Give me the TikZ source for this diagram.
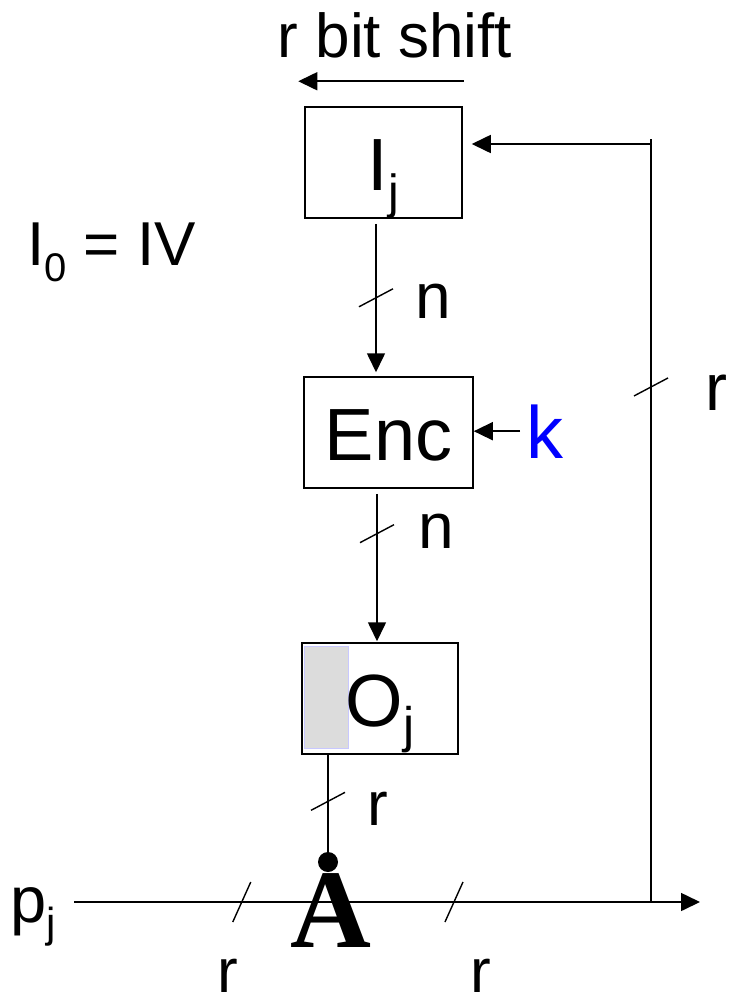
\documentclass[tikz,border=0pt]{standalone}
\usepackage{fontspec}
\setmainfont{Liberation Sans}
\newfontfamily\serfont{Liberation Serif}
\usepackage{xcolor}
\usetikzlibrary{arrows.meta,positioning}
\definecolor{slotgray}{HTML}{DCDCDC}
\definecolor{slotedge}{HTML}{C8C8FF}
\newcommand{\lsub}[3]{\raisebox{-#1pt}{\fontsize{#2}{#2}\selectfont #3}}

\begin{document}
\begin{tikzpicture}[
  x=1pt, y=-1pt,
  blk/.style={draw, line width=1.5pt, inner sep=0pt, minimum height=111pt,
              text height=56pt, text depth=0pt, font=\fontsize{74}{80}\selectfont},
  lbl/.style={inner sep=0pt, font=\fontsize{62}{66}\selectfont},
  arr/.style={-{Triangle[length=19pt, width=18pt]}, line width=1.6pt},
  wire/.style={line width=1.6pt},
  tick/.style={line width=1.4pt}
]
  \useasboundingbox (0,0) rectangle (728,1001);

  % boxes
  \node[blk, minimum width=157pt] (ij)  at (383.5,162.5) {I\lsub{18}{48}{j}};
  \node[blk, minimum width=169pt] (enc) at (388.5,432.5) {Enc};
  \node[blk, minimum width=156pt] (oj)  at (380,698.5)   {\phantom{O}};
  \fill[slotgray, draw=slotedge, line width=1pt]
    ([shift={(3,4)}]oj.north west) rectangle ([shift={(47,106)}]oj.north west);
  \node[inner sep=0pt, text height=56pt, text depth=0pt, font=\fontsize{74}{80}\selectfont]
    (ojtxt) at (oj.center) {O\lsub{16}{50}{j}};

  % labels
  \node[lbl, anchor=base] (shift) at (395,57) {r bit shift};
  \node[lbl, anchor=base west] (iv) at (27,265) {I\lsub{16}{40}{0} = IV};
  \node[lbl, anchor=base, font=\fontsize{64}{66}\selectfont] (n1) at (433,318) {n};
  \node[lbl, anchor=base, font=\fontsize{64}{66}\selectfont] (n2) at (436,548) {n};
  \node[lbl, anchor=base west, text=blue, font=\fontsize{74}{80}\selectfont] (k) at (526,458) {k};
  \node[lbl, anchor=base west, font=\fontsize{66}{66}\selectfont] (rfb) at (705,410) {r};
  \node[lbl, anchor=base, font=\fontsize{62}{66}\selectfont] (ro) at (378,825) {r};
  \node[lbl, anchor=base, font=\fontsize{62}{66}\selectfont] (rin) at (228,992) {r};
  \node[lbl, anchor=base, font=\fontsize{62}{66}\selectfont] (rout) at (481,992) {r};
  \node[lbl, anchor=base west, font=\fontsize{65}{66}\selectfont] (pj) at (10,922) {p\lsub{15}{42}{j}};

  % xor point
  \node[inner sep=0pt, anchor=base, font=\serfont\bfseries\fontsize{112}{112}\selectfont]
    (xor) at (331,947) {A};
  \node[circle, fill, inner sep=0pt, minimum size=20pt] (dot) at (328,862) {};

  \coordinate (pin)  at (74,902);
  \coordinate (out)  at (700,902);
  \coordinate (tap)  at (651,902);
  \coordinate (fbin) at ([shift={(9,-18.5)}]ij.east);

  % connectors
  \draw[arr] ([shift={(1,-25)}]ij.north east) -- ([shift={(-6,-25)}]ij.north west);
  \draw[arr, shorten >=9pt] ([shift={(-7.5,5)}]ij.south)
    -- coordinate[pos=0.47] (s1) ([shift={(-7.5,5)}]ij.south |- enc.north);
  \draw[arr, shorten >=6pt] ([shift={(-11.5,5)}]enc.south)
    -- coordinate[pos=0.26] (s2) ([shift={(-11.5,5)}]enc.south |- oj.north);
  \draw[arr] ([shift={(-6,0)}]k.west) -- (k.west -| enc.east);
  \draw[wire] (oj.south -| dot) -- coordinate[pos=0.48] (s3) (dot);
  \draw[arr] (pin) -- coordinate[pos=0.268] (s4) coordinate[pos=0.607] (s5) (out);
  \draw[wire] (tap) -- coordinate[pos=0.675] (s6) ([shift={(0,-5)}]tap |- fbin);
  \draw[arr] (tap |- fbin) -- (fbin);

  % width marks
  \foreach \s in {s1,s2,s3,s6}
    \draw[tick] ([shift={(-17,9)}]\s) -- ([shift={(17,-9)}]\s);
  \foreach \s in {s4,s5}
    \draw[tick] ([shift={(-9,20)}]\s) -- ([shift={(9,-20)}]\s);
\end{tikzpicture}
\end{document}
